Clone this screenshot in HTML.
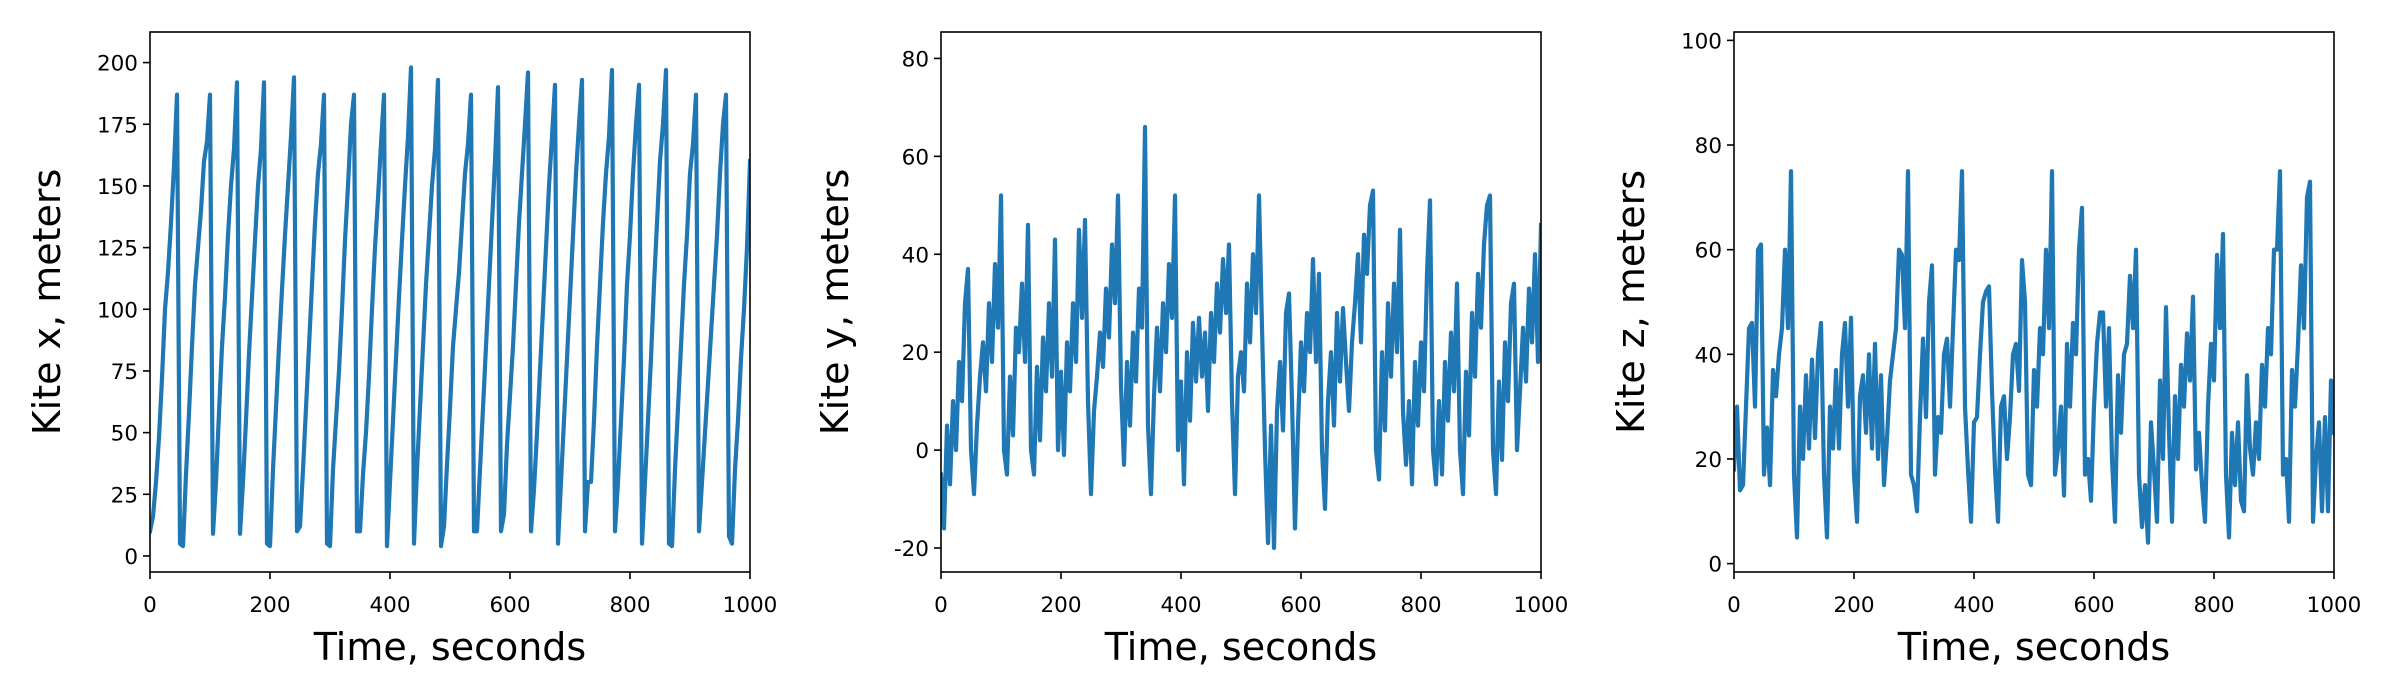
<!DOCTYPE html>
<html><head><meta charset="utf-8"><style>
html,body{margin:0;padding:0;background:#fff;}
svg{display:block;}
text{font-family:"DejaVu Sans","Liberation Sans",sans-serif;fill:#000;}
</style></head>
<body>
<svg id="fig" width="2400" height="700" viewBox="0 0 2400 700" xmlns="http://www.w3.org/2000/svg"></svg>
<script>
// Sample spacing (seconds) for all series
const sampleStep = 5;
// Kite x position (m), one value every 5 s
const kiteX = [10,16,30,48,72,100,115,135,158,187,
5,4,33,58,85,110,125,140,160,168,187,
9,30,58,85,105,130,150,165,192,
9,30,55,82,105,128,150,165,192,
5,4,35,60,85,108,130,150,170,194,
10,12,35,60,85,110,135,155,167,187,
5,4,35,55,75,100,128,150,175,187,
10,10,33,50,73,100,125,145,167,187,
4,30,55,80,105,128,150,170,198,
5,35,60,85,110,130,150,165,193,
4,12,37,60,85,100,115,135,155,167,187,
10,10,35,60,85,110,135,160,190,
10,17,45,65,85,110,135,155,175,196,
10,27,50,75,100,125,150,170,191,
5,30,55,80,105,130,155,175,193,
10,30,30,55,85,110,135,155,170,197,
10,30,55,80,110,130,155,175,191,
5,30,55,80,110,135,160,175,197,
5,4,35,60,85,110,130,155,167,187,
10,30,50,70,90,110,130,155,175,187,
8,5,35,55,80,100,125,160];
// Kite y position (m)
const kiteY = [-5,-16,5,-7,10,0,18,10,30,37,0,-9,5,15,22,12,30,18,38,25,
52,0,-5,15,3,25,20,34,18,46,0,-5,17,2,23,12,30,15,43,0,
16,-1,22,12,30,18,45,27,47,10,-9,8,15,24,17,33,23,42,30,52,
13,-3,18,5,24,14,33,25,66,5,-9,11,25,12,30,20,38,27,52,0,
14,-7,20,6,26,14,27,15,24,8,28,18,34,24,39,28,42,10,-9,15,
20,12,34,22,40,28,52,25,0,-19,5,-20,8,18,4,28,32,10,-16,5,
22,12,28,20,39,18,36,0,-12,10,20,5,28,14,29,18,8,22,30,40,
22,44,36,50,53,0,-6,20,4,30,15,34,20,45,8,-3,10,-7,18,5,
22,12,36,51,0,-7,10,-5,18,6,24,12,34,0,-9,16,3,28,15,36,
25,42,50,52,0,-9,14,-2,22,10,30,34,0,12,25,14,33,22,40,18,46];
// Kite z position (m)
const kiteZ = [18,30,14,15,30,45,46,30,60,61,17,26,15,37,32,40,45,60,45,75,
17,5,30,20,36,22,39,24,40,46,17,5,30,22,37,22,40,46,30,47,
17,8,32,36,25,40,22,42,20,36,15,24,35,40,45,60,59,45,75,17,
15,10,28,43,28,50,57,17,28,25,40,43,30,45,60,58,75,30,18,8,
27,28,40,50,52,53,33,18,8,30,32,20,28,40,42,33,58,50,17,15,
37,30,45,40,60,45,75,17,22,30,13,42,30,46,40,60,68,17,20,12,
30,42,48,48,30,45,20,8,36,25,40,42,55,45,60,17,7,15,4,27,
18,8,35,20,49,25,8,32,20,38,30,44,35,51,18,25,15,8,30,42,
35,59,45,63,17,5,25,15,27,12,10,36,22,17,27,20,38,30,45,40,
60,60,75,17,20,8,37,30,42,57,45,70,73,8,20,27,10,28,10,35,25];

// X axis ticks shared by all panels
const xTicks = [0,200,400,600,800,1000];
const yTicksX = [0,25,50,75,100,125,150,175,200];
const yTicksY = [-20,0,20,40,60,80];
const yTicksZ = [0,20,40,60,80,100];

const NS = "http://www.w3.org/2000/svg";
const svg = document.getElementById('fig');
function mk(tag, attrs, parent){
  const e = document.createElementNS(NS, tag);
  for (const k in attrs) e.setAttribute(k, attrs[k]);
  (parent||svg).appendChild(e);
  return e;
}

const panels = [
  {key:'x', data:kiteX, yTicks:yTicksX, x0:150, x1:750, ymin:-6.5, ymax:212.4, label:'Kite x, meters', labelX:60},
  {key:'y', data:kiteY, yTicks:yTicksY, x0:941, x1:1541, ymin:-24.9, ymax:85.4, label:'Kite y, meters', labelX:848},
  {key:'z', data:kiteZ, yTicks:yTicksZ, x0:1734, x1:2334, ymin:-1.6, ymax:101.6, label:'Kite z, meters', labelX:1644}
];
const Y0 = 32, Y1 = 572;

panels.forEach(p => {
  const g = mk('g', {});
  
  
  const sx = v => p.x0 + (v - 0) / (1000 - 0) * (p.x1 - p.x0);
  const sy = v => Y1 - (v - p.ymin) / (p.ymax - p.ymin) * (Y1 - Y0);

  const clipId = 'clip-' + p.key;
  const cp = mk('clipPath', {id: clipId}, g);
  mk('rect', {x:p.x0, y:Y0, width:p.x1-p.x0, height:Y1-Y0}, cp);

  let d = '';
  p.data.forEach((v, i) => {
    d += (i ? 'L' : 'M') + sx(i * sampleStep).toFixed(2) + ' ' + sy(v).toFixed(2);
  });
  const line = mk('path', {d:d, fill:'none', stroke:'#1f77b4', 'stroke-width':4.2, 'stroke-linejoin':'round', 'stroke-linecap':'square', 'clip-path':'url(#'+clipId+')'}, g);
  
  

  const frame = mk('rect', {x:p.x0, y:Y0, width:p.x1-p.x0, height:Y1-Y0, fill:'none', stroke:'#000', 'stroke-width':1.6}, g);
  
  

  xTicks.forEach(t => {
    const x = sx(t);
    const tk = mk('line', {x1:x, x2:x, y1:Y1, y2:Y1+7, stroke:'#000', 'stroke-width':1.6}, g);
    
    
    const tl = mk('text', {x:x, y:Y1+40, 'text-anchor':'middle', 'font-size':21.5}, g);
    tl.textContent = t;
    
    
  });
  p.yTicks.forEach(t => {
    const y = sy(t);
    const tk = mk('line', {x1:p.x0-7, x2:p.x0, y1:y, y2:y, stroke:'#000', 'stroke-width':1.6}, g);
    
    
    const tl = mk('text', {x:p.x0-12, y:y+8, 'text-anchor':'end', 'font-size':21.5}, g);
    tl.textContent = t;
    
    
  });

  const xl = mk('text', {x:(p.x0+p.x1)/2, y:660, 'text-anchor':'middle', 'font-size':38}, g);
  xl.textContent = 'Time, seconds';
  
  

  const cy = (Y0+Y1)/2;
  const yl = mk('text', {x:p.labelX, y:cy, 'text-anchor':'middle', 'font-size':38, transform:'rotate(-90 '+p.labelX+' '+cy+')'}, g);
  yl.textContent = p.label;
  
  
});
</script>
</body></html>
